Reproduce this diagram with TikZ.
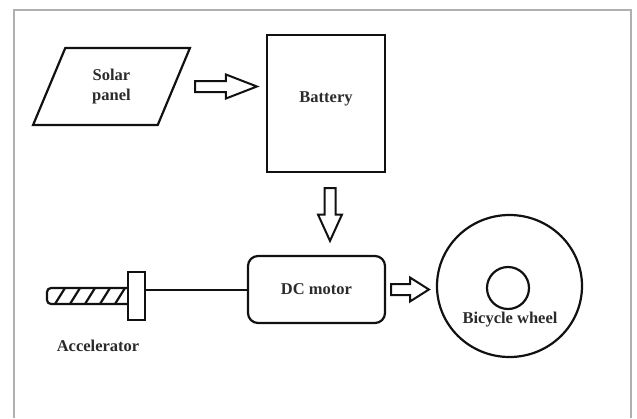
\documentclass[tikz,border=0pt]{standalone}
\usepackage{fontspec}
\setmainfont{Liberation Serif}
\usepackage{tikz}
\usetikzlibrary{positioning, shapes.geometric, calc}
\definecolor{Ink}{HTML}{111111}
\definecolor{Frame}{HTML}{B0B0B0}
\definecolor{Label}{HTML}{2B2B2B}
\tikzset{
  block/.style={draw=Ink, line width=2.2pt, inner sep=0pt},
  hollow/.style={draw=Ink, line width=2pt, line join=miter, fill=white},
  lbl/.style={font=\fontsize{16.5}{20}\selectfont\bfseries, text=Label,
              align=center, inner sep=0pt},
}
% hollow block arrow from #1 to #2, head is half of the length
\newcommand{\hollowarrow}[2]{%
  \draw[hollow] let \p1=(#1), \p2=(#2),
      \n1={atan2(\y2-\y1,\x2-\x1)}, \n2={veclen(\x2-\x1,\y2-\y1)/2} in
    (\p1) ++(\n1+90:5.5pt) -- ++(\n1:\n2) -- ++(\n1+90:6.5pt) -- (\p2)
    -- ($(\p1)+(\n1:\n2)+(\n1-90:12pt)$) -- ++(\n1+90:6.5pt)
    -- ++(\n1+180:\n2) -- cycle;
}

\begin{document}
\begin{tikzpicture}[x=1pt, y=-1pt]
\useasboundingbox (0,0) rectangle (637,418);
\draw[Frame, line width=2pt] (14,418) -- (14,10) -- (631,10) -- (631,418);

\node[block, trapezium, trapezium left angle=69, trapezium right angle=111,
      trapezium stretches, minimum width=157pt, minimum height=77pt,
      lbl] (solar) at (111.5,86.5) {Solar\\panel};
\node[block, minimum width=118pt, minimum height=137pt] (battery) at (326,103.5) {};
\node[lbl] (batterytext) at ([yshift=5pt]battery.center) {Battery};
\node[block, rounded corners=10pt, minimum width=137pt, minimum height=67pt,
      lbl] (motor) at (316.5,289.5) {DC motor};
\node[block, ellipse, minimum width=145pt, minimum height=142pt] (wheel) at (509.5,286) {};
\node[block, circle, minimum size=42pt] (hub) at (508,288) {};
\node[lbl] (wheeltext) at (510,320) {Bicycle wheel};

% accelerator grip and plate
\draw[draw=Ink, line width=2.2pt] (128,288) [rounded corners=4pt] -- (47,288)
  -- (47,304) [sharp corners] -- (128,304);
\foreach \i in {0,...,4}
  \draw[draw=Ink, line width=2.2pt] (55+15*\i,304) -- (65+15*\i,288);
\node[block, fill=white, minimum width=17pt, minimum height=48pt] (plate) at (136.5,296) {};
\node[lbl] (acctext) at (98,346) {Accelerator};
\draw[draw=Ink, line width=2pt] (plate.east |- motor.west) -- (motor.west);

\hollowarrow{$(solar.east)+(20pt,0)$}{$(battery.west |- solar.east)+(-9pt,0)$}
\hollowarrow{$(battery.south)+(4pt,-15pt)$}{$(motor.north -| battery.south)+(4pt,14pt)$}
\hollowarrow{$(motor.east)+(5pt,0)$}{$(wheel.west |- motor.east)+(-7pt,0)$}
\end{tikzpicture}
\end{document}
